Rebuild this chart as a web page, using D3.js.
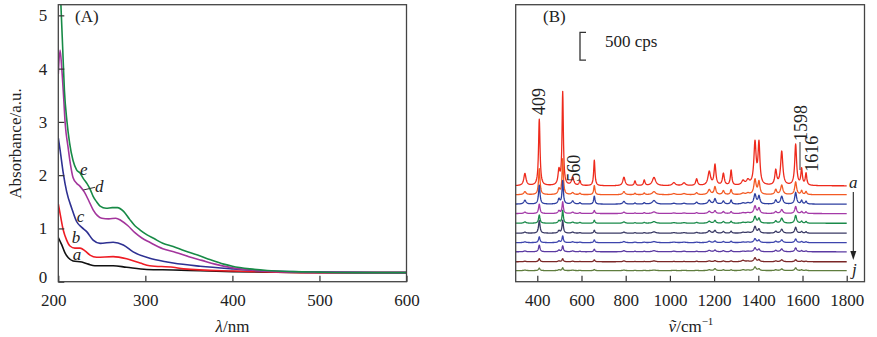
<!DOCTYPE html>
<html><head><meta charset="utf-8">
<script src="https://cdn.jsdelivr.net/npm/d3@7/dist/d3.min.js"></script>
<style>
html,body{margin:0;padding:0;background:#fff;}
svg text{font-family:"Liberation Serif","Times New Roman",serif;fill:#222;}
</style></head>
<body><svg id="c" width="877" height="337"></svg>
<script>
// ---------- Panel A data (UV-vis absorbance) ----------
const uvLabels = ["a","b","c","d","e"];
const uvColors = ["#111111","#ee1c24","#2e3192","#a3359c","#178a46"];
const uvA = [[200,0.83],[204,0.69],[208,0.53],[211.5,0.45],[217,0.39],[227,0.37],[234.5,0.33],[242,0.30],[263,0.30],[278.5,0.27],[301.5,0.23],[332,0.22],[363,0.205],[400,0.19],[440,0.18],[500,0.17],[600,0.17]];
const uvB = [[200,1.46],[202.7,1.22],[205.7,0.97],[209.6,0.78],[213.4,0.67],[219,0.63],[225,0.63],[230.7,0.58],[236.4,0.50],[244,0.46],[263,0.47],[278.5,0.43],[294,0.35],[305,0.30],[332,0.27],[344,0.24],[401,0.20],[450,0.18],[500,0.17],[600,0.17]];
const uvC = [[200,2.70],[202,2.48],[205.7,2.04],[209.6,1.69],[215.4,1.38],[221,1.13],[227,1.02],[232.6,0.94],[240,0.78],[248,0.72],[263,0.74],[274.7,0.69],[286,0.56],[305,0.44],[325,0.37],[332,0.35],[363,0.29],[401,0.24],[440,0.20],[500,0.18],[600,0.17]];
const uvD = [[200,3.9],[202,4.35],[204,4.0],[206,3.5],[208,2.95],[211,2.55],[214,2.2],[217,1.95],[221,1.85],[225,1.79],[230,1.68],[235,1.52],[240,1.35],[245,1.24],[250,1.19],[258,1.18],[266,1.19],[272,1.15],[280,1.05],[288,0.92],[296,0.82],[305,0.74],[320,0.62],[335,0.55],[350,0.47],[365,0.40],[380,0.33],[400,0.26],[420,0.22],[450,0.19],[500,0.175],[600,0.17]];
const uvE = [[200,5.6],[202,5.5],[203.5,5.0],[205,4.4],[207,3.6],[210,3.0],[213,2.6],[217,2.27],[221,2.1],[225,2.04],[229,1.93],[233,1.84],[237,1.72],[240,1.6],[244,1.5],[248,1.42],[255,1.38],[262,1.39],[268,1.39],[275,1.32],[282,1.17],[288,1.05],[294,0.97],[302,0.88],[310,0.81],[320,0.72],[332,0.66],[345,0.58],[360,0.50],[375,0.41],[390,0.33],[400,0.29],[420,0.24],[440,0.21],[470,0.19],[500,0.18],[550,0.17],[600,0.17]];
const uvSeries = [uvA,uvB,uvC,uvD,uvE];
const uvXTicks = [200,300,400,500,600];
const uvYTicks = [0,1,2,3,4,5];

// ---------- Panel B data (SERS spectra, cps) ----------
const ramanPeaks  = [344,409,498,515,560,593,658,792,842,884,928,1018,1064,1121,1178,1204,1242,1277,1331,1353,1385,1403,1479,1506,1569,1596,1616];
const peakWidths  = [6,4,5,3.5,6,4,3.5,6,4,4,9,8,8,5,7,5,5,4,8,8,6,5,5,6,5,4,4];
const traceA = [220,1200,260,1680,150,85,460,155,85,100,150,55,50,120,250,370,215,275,80,85,760,740,265,610,740,290,215];
const traceB = [55,470,100,640,35,25,165,55,25,30,55,20,20,35,90,140,70,90,25,25,270,230,90,170,230,70,55];
const traceC = [70,340,90,420,55,25,145,50,20,25,65,15,15,35,70,95,55,70,20,20,175,140,70,140,210,65,50];
const traceD = [25,170,50,210,25,15,55,25,10,15,30,10,10,15,40,50,35,35,15,15,135,95,35,70,125,35,30];
const traceE = [25,150,45,230,20,15,55,25,10,15,30,10,10,15,35,50,30,35,15,15,120,85,40,90,140,35,30];
const traceF = [20,230,45,230,20,10,55,20,10,10,25,10,10,15,45,50,30,35,15,15,120,70,35,70,105,30,25];
const traceG = [15,105,30,120,15,10,50,20,10,10,20,10,10,10,25,30,20,25,10,10,70,45,25,50,65,20,15];
const traceH = [15,120,30,105,15,10,45,20,10,10,20,10,10,10,25,30,20,25,10,10,70,45,25,50,70,20,15];
const traceI = [10,55,15,55,10,5,35,15,5,5,15,5,5,10,15,20,15,15,25,10,70,35,15,35,35,15,10];
const traceJ = [10,45,15,50,10,5,20,10,5,5,10,5,5,5,15,35,15,15,15,10,65,30,15,30,50,15,10];
const ramanTraces = [traceA,traceB,traceC,traceD,traceE,traceF,traceG,traceH,traceI,traceJ];
const ramanBaselines = [1730,1570,1400,1230,1055,875,705,540,360,200];
const ramanColors = ["#ee2a1c","#f35a24","#2e3fa0","#a43aa8","#1a8a4a","#3b3b66","#3d45ad","#5b3aa2","#7a2626","#5f7d3e"];
const ramanXTicks = [400,600,800,1000,1200,1400,1600,1800];
const ramanRange = [302,1800];
const annotPeaks = ["409","560","1598","1616"];

const svg = d3.select("#c");
const FS = 17;

// ================= Panel A =================
const A = {l:58.3, r:406.5, t:4.7, b:281.7};
const xA = d3.scaleLinear().domain([200,600]).range([A.l,A.r]);
const yA = d3.scaleLinear().domain([0,5.2]).range([A.b,A.t]);
svg.append("clipPath").attr("id","clipA").append("rect")
  .attr("x",A.l).attr("y",A.t).attr("width",A.r-A.l).attr("height",A.b-A.t);
const gA = svg.append("g");
const lineA = d3.line().x(d=>xA(d[0])).y(d=>yA(d[1])).curve(d3.curveMonotoneX);
uvSeries.forEach((s,i)=>{
  gA.append("path").attr("d",lineA(s)).attr("fill","none")
    .attr("stroke",uvColors[i]).attr("stroke-width",1.6).attr("clip-path","url(#clipA)");
});
const axXA = gA.append("g").attr("transform",`translate(0,${A.b})`)
  .call(d3.axisBottom(xA).tickValues(uvXTicks).tickFormat(d3.format("d")).tickSizeInner(-6).tickSizeOuter(0).tickPadding(12));
const axYA = gA.append("g").attr("transform",`translate(${A.l},0)`)
  .call(d3.axisLeft(yA).tickValues(uvYTicks).tickFormat(d3.format("d")).tickSizeInner(-6).tickSizeOuter(0).tickPadding(11));
[axXA,axYA].forEach(g=>{
  g.attr("font-family",null);
  g.select(".domain").remove();
  g.selectAll("line").attr("stroke","#333").attr("stroke-width",1.2);
  g.selectAll("text").style("font-size",FS+"px").attr("fill","#222");
});
axXA.selectAll("text").filter(d=>d===200).attr("dx",-5);
axYA.selectAll("text").filter(d=>d===0).attr("dy","0.05em");
gA.append("rect").attr("x",A.l).attr("y",A.t).attr("width",A.r-A.l).attr("height",A.b-A.t)
  .attr("fill","none").attr("stroke","#444").attr("stroke-width",1.3);
gA.append("text").attr("x",75).attr("y",22).style("font-size",FS+"px").text("(A)");
gA.append("text").attr("transform","translate(21,143.5) rotate(-90)").attr("text-anchor","middle")
  .style("font-size",FS+"px").text("Absorbance/a.u.");
const tA = gA.append("text").attr("x",232.5).attr("y",332).attr("text-anchor","middle").style("font-size",FS+"px");
tA.append("tspan").attr("font-style","italic").text("λ");
tA.append("tspan").text("/nm");
// curve labels
const labPos = [[72.7,260],[71.7,243],[76.7,221.7],[95,191.7],[80,175]];
uvLabels.forEach((t,i)=>{
  gA.append("text").attr("x",labPos[i][0]).attr("y",labPos[i][1]).attr("font-style","italic")
    .style("font-size",FS+"px").text(t);
});
gA.append("line").attr("x1",83.3).attr("y1",190).attr("x2",95).attr("y2",187.3)
  .attr("stroke","#333").attr("stroke-width",1);

// ================= Panel B =================
const B = {l:515.7, r:864.5, t:4.7, b:281.7};
const xB = d3.scaleLinear().domain([302.3,1880.5]).range([B.l,B.r]);
const yB = d3.scaleLinear().domain([0,5000]).range([B.b,B.t]);
const gB = svg.append("g");
const grid = d3.range(ramanRange[0], ramanRange[1]+0.5, 1);
const lineB = d3.line().x(d=>xB(d[0])).y(d=>yB(d[1]));
ramanTraces.forEach((h,ti)=>{
  const pts = grid.map(x=>{
    let v = ramanBaselines[ti];
    ramanPeaks.forEach((p,k)=>{ const w=peakWidths[k]; v += h[k]*w*w/((x-p)*(x-p)+w*w); });
    return [x,v];
  });
  gB.append("path").attr("d",lineB(pts)).attr("fill","none")
    .attr("stroke",ramanColors[ti]).attr("stroke-width",1.3).attr("stroke-linejoin","round");
});
const axXB = gB.append("g").attr("transform",`translate(0,${B.b})`)
  .call(d3.axisBottom(xB).tickValues(ramanXTicks).tickFormat(d3.format("d")).tickSizeInner(-6).tickSizeOuter(0).tickPadding(12));
axXB.attr("font-family",null);
axXB.select(".domain").remove();
axXB.selectAll("line").attr("stroke","#333").attr("stroke-width",1.2);
axXB.selectAll("text").style("font-size",FS+"px").attr("fill","#222");
gB.append("rect").attr("x",B.l).attr("y",B.t).attr("width",B.r-B.l).attr("height",B.b-B.t)
  .attr("fill","none").attr("stroke","#444").attr("stroke-width",1.3);
gB.append("text").attr("x",543).attr("y",22).style("font-size",FS+"px").text("(B)");
// scale bar 500 cps
const sbX = 580, sbTop = yB(4500), sbBot = yB(4000);
gB.append("path").attr("d",`M${sbX+6},${sbTop}H${sbX}V${sbBot}H${sbX+6}`)
  .attr("fill","none").attr("stroke","#333").attr("stroke-width",1.3);
gB.append("text").attr("x",605).attr("y",46.7).style("font-size",FS+"px").text("500 cps");
// rotated peak labels
const annPos = [[545,115],[580,181.7],[807,141],[818,171.7]];
annotPeaks.forEach((t,i)=>{
  gB.append("text").attr("transform",`translate(${annPos[i][0]},${annPos[i][1]}) rotate(-90)`)
    .style("font-size",(FS+1)+"px").text(t);
});
gB.append("line").attr("x1",800).attr("y1",142).attr("x2",800).attr("y2",170)
  .attr("stroke","#555").attr("stroke-width",1.2);
// trace labels + arrow
gB.append("text").attr("x",849).attr("y",188).attr("font-style","italic").style("font-size",FS+"px").text("a");
gB.append("text").attr("x",852).attr("y",274.5).attr("font-style","italic").style("font-size",FS+"px").text("j");
gB.append("line").attr("x1",853.3).attr("y1",192).attr("x2",853.3).attr("y2",252).attr("stroke","#222").attr("stroke-width",1.1);
gB.append("path").attr("d","M850.3,251L856.3,251L853.3,260Z").attr("fill","#222");
// x title
const tB = gB.append("text").attr("x",691).attr("y",332).attr("text-anchor","middle").style("font-size",FS+"px");
tB.append("tspan").attr("font-style","italic").text("\u1E7D");
tB.append("tspan").text("/cm");
tB.append("tspan").attr("dy",-7).style("font-size","11px").text("−1");
</script></body></html>
